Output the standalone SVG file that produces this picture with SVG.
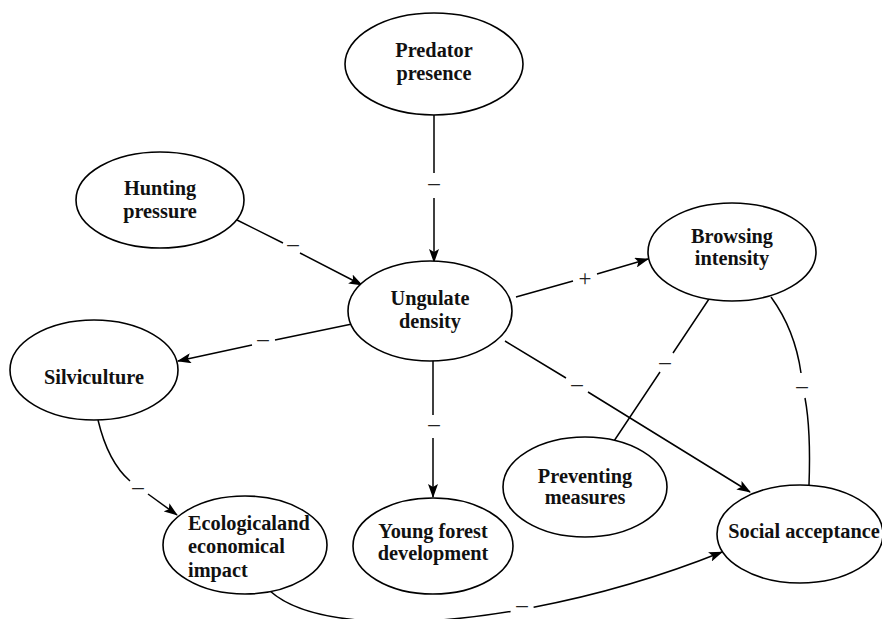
<svg xmlns="http://www.w3.org/2000/svg" width="882" height="619" viewBox="0 0 882 619">
<defs>
<marker id="arr" markerWidth="14" markerHeight="10" refX="13" refY="5" orient="auto" markerUnits="userSpaceOnUse">
<path d="M0,0 L14,5 L0,10 L3,5 Z" fill="#000"/>
</marker>
<style>
.n ellipse{fill:#fff;stroke:#000;stroke-width:1.6}
.n text{font-family:"Liberation Serif","Times New Roman",serif;font-weight:bold;font-size:20.3px;fill:#111;text-anchor:middle}
.c path{fill:none;stroke:#000;stroke-width:1.5}
.c .a{marker-end:url(#arr)}
.lb{font-family:"Liberation Serif","Times New Roman",serif;font-size:23px;fill:#222;text-anchor:middle}
</style>
</defs>
<rect width="882" height="619" fill="#fff"/>
<g id="connectors" class="c">
<path class="a" d="M434,115 L434,173 M434,198 L434,262"/>
<path class="a" d="M237,220 L283,243 M300,253 L362,285"/>
<path class="a" d="M352,324 L275,340 M252,345 L178,361"/>
<path class="a" d="M516,297 L573,281 M597,274 L648,259"/>
<path class="a" d="M505,341 L566,378 M588,392 L750,492"/>
<path d="M709,299 L673,353 M660,372 L614,441"/>
<path d="M771,297 Q795,330 801,373 M805,398 Q811,430 809,485"/>
<path class="a" d="M433,360 L433,415 M433,438 L433,497"/>
<path d="M98,420 Q108,462 130,481"/>
<path class="a" d="M148,494 L177,515"/>
<path d="M270,591 C307,624.3 401.2,629.5 510.6,611.4"/>
<path class="a" d="M533.6,607.2 C595,595.5 660.1,576.8 722,552"/>
<text class="lb" x="434" y="190">–</text>
<text class="lb" x="293" y="251">–</text>
<text class="lb" x="263" y="346">–</text>
<text class="lb" x="585" y="286">+</text>
<text class="lb" x="577" y="391">–</text>
<text class="lb" x="665" y="369">–</text>
<text class="lb" x="802" y="393">–</text>
<text class="lb" x="434" y="431">–</text>
<text class="lb" x="138" y="494">–</text>
<text class="lb" x="522" y="612">–</text>
</g>
<g id="predator" class="n"><ellipse cx="434" cy="64" rx="89" ry="51"/><text x="434" y="57">Predator</text><text x="434" y="80">presence</text></g>
<g id="hunting" class="n"><ellipse cx="160" cy="200" rx="84" ry="48"/><text x="160" y="195">Hunting</text><text x="160" y="218">pressure</text></g>
<g id="ungulate" class="n"><ellipse cx="430" cy="311" rx="82" ry="50"/><text x="430" y="305">Ungulate</text><text x="430" y="328">density</text></g>
<g id="silviculture" class="n"><ellipse cx="94" cy="370" rx="84" ry="50"/><text x="94" y="384">Silviculture</text></g>
<g id="browsing" class="n"><ellipse cx="732" cy="252" rx="84" ry="49"/><text x="732" y="243">Browsing</text><text x="732" y="265">intensity</text></g>
<g id="preventing" class="n"><ellipse cx="585" cy="487" rx="82" ry="50"/><text x="585" y="483">Preventing</text><text x="585" y="504">measures</text></g>
<g id="social" class="n"><ellipse cx="800" cy="534" rx="83" ry="49"/><text x="804" y="538">Social acceptance</text></g>
<g id="ecological" class="n"><ellipse cx="245" cy="545" rx="82" ry="49"/><text x="188" y="530" style="text-anchor:start">Ecologicaland</text><text x="188" y="553" style="text-anchor:start">economical</text><text x="188" y="577" style="text-anchor:start">impact</text></g>
<g id="young" class="n"><ellipse cx="433" cy="546" rx="80" ry="48"/><text x="433" y="538">Young forest</text><text x="433" y="560">development</text></g>
</svg>
